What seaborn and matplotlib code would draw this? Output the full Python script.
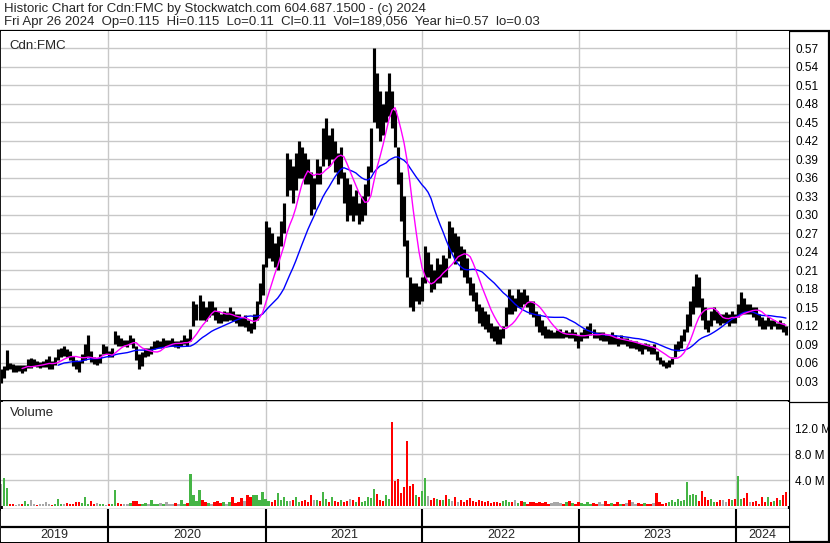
import numpy as np
import pandas as pd
import seaborn as sns
import matplotlib.pyplot as plt

# weekly bars, Fri 2019-04-26 .. Fri 2024-04-26 (262 weeks)
weeks = pd.date_range('2019-04-26', '2024-04-26', freq='W-FRI')

hi = [0.050, 0.055, 0.081, 0.060, 0.058, 0.056, 0.057, 0.056, 0.057, 0.066,
      0.068, 0.066, 0.064, 0.062, 0.063, 0.066, 0.072, 0.064, 0.070, 0.082,
      0.085, 0.087, 0.083, 0.080, 0.072, 0.065, 0.063, 0.075, 0.090, 0.105,
      0.080, 0.070, 0.068, 0.075, 0.090, 0.088, 0.080, 0.085, 0.112, 0.105,
      0.100, 0.098, 0.097, 0.105, 0.100, 0.088, 0.075, 0.078, 0.085, 0.085,
      0.088, 0.095, 0.097, 0.095, 0.100, 0.098, 0.097, 0.100, 0.096, 0.095,
      0.098, 0.105, 0.100, 0.115, 0.160, 0.155, 0.170, 0.160, 0.150, 0.160,
      0.160, 0.150, 0.145, 0.140, 0.145, 0.142, 0.150, 0.145, 0.140, 0.140,
      0.135, 0.138, 0.130, 0.125, 0.140, 0.160, 0.190, 0.220, 0.290, 0.280,
      0.270, 0.255, 0.265, 0.290, 0.320, 0.400, 0.390, 0.380, 0.400, 0.420,
      0.410, 0.400, 0.390, 0.370, 0.360, 0.390, 0.380, 0.440, 0.457, 0.430,
      0.440, 0.420, 0.400, 0.410, 0.370, 0.360, 0.350, 0.330, 0.340, 0.320,
      0.330, 0.350, 0.380, 0.440, 0.570, 0.530, 0.500, 0.480, 0.500, 0.530,
      0.500, 0.470, 0.410, 0.370, 0.330, 0.260, 0.200, 0.190, 0.190, 0.185,
      0.200, 0.250, 0.240, 0.220, 0.210, 0.230, 0.220, 0.235, 0.230, 0.290,
      0.280, 0.270, 0.265, 0.250, 0.245, 0.230, 0.200, 0.190, 0.175, 0.155,
      0.150, 0.145, 0.140, 0.125, 0.120, 0.120, 0.115, 0.120, 0.150, 0.180,
      0.170, 0.165, 0.180, 0.175, 0.180, 0.170, 0.160, 0.160, 0.145, 0.140,
      0.130, 0.120, 0.115, 0.113, 0.110, 0.113, 0.115, 0.110, 0.113, 0.110,
      0.115, 0.110, 0.105, 0.110, 0.115, 0.120, 0.125, 0.115, 0.110, 0.110,
      0.110, 0.105, 0.105, 0.110, 0.105, 0.100, 0.105, 0.100, 0.100, 0.098,
      0.095, 0.095, 0.092, 0.090, 0.093, 0.090, 0.088, 0.090, 0.080, 0.070,
      0.065, 0.062, 0.065, 0.070, 0.090, 0.095, 0.105, 0.115, 0.140, 0.160,
      0.185, 0.205, 0.200, 0.165, 0.150, 0.130, 0.145, 0.150, 0.145, 0.140,
      0.140, 0.143, 0.140, 0.145, 0.140, 0.155, 0.175, 0.165, 0.155, 0.155,
      0.150, 0.150, 0.140, 0.135, 0.130, 0.135, 0.130, 0.130, 0.125, 0.130,
      0.125, 0.120]

lo = [0.028, 0.035, 0.048, 0.050, 0.045, 0.046, 0.047, 0.044, 0.047, 0.052,
      0.052, 0.055, 0.053, 0.052, 0.054, 0.053, 0.050, 0.050, 0.056, 0.065,
      0.070, 0.072, 0.070, 0.065, 0.055, 0.050, 0.045, 0.060, 0.065, 0.070,
      0.062, 0.058, 0.057, 0.060, 0.075, 0.074, 0.070, 0.070, 0.090, 0.088,
      0.088, 0.087, 0.086, 0.090, 0.085, 0.065, 0.050, 0.055, 0.070, 0.072,
      0.075, 0.083, 0.085, 0.085, 0.086, 0.087, 0.088, 0.087, 0.086, 0.085,
      0.088, 0.090, 0.088, 0.095, 0.120, 0.130, 0.130, 0.130, 0.128, 0.135,
      0.138, 0.130, 0.125, 0.125, 0.128, 0.128, 0.130, 0.128, 0.125, 0.120,
      0.120, 0.118, 0.112, 0.108, 0.115, 0.130, 0.155, 0.170, 0.215, 0.230,
      0.225, 0.215, 0.210, 0.250, 0.270, 0.330, 0.340, 0.320, 0.340, 0.360,
      0.360, 0.350, 0.350, 0.300, 0.310, 0.350, 0.350, 0.380, 0.390, 0.380,
      0.390, 0.370, 0.350, 0.360, 0.320, 0.290, 0.300, 0.290, 0.300, 0.285,
      0.290, 0.300, 0.330, 0.370, 0.450, 0.440, 0.420, 0.430, 0.450, 0.460,
      0.440, 0.410, 0.350, 0.290, 0.250, 0.200, 0.150, 0.145, 0.160, 0.155,
      0.160, 0.190, 0.200, 0.175, 0.180, 0.190, 0.190, 0.200, 0.200, 0.230,
      0.240, 0.220, 0.225, 0.210, 0.200, 0.190, 0.170, 0.160, 0.145, 0.125,
      0.120, 0.115, 0.110, 0.100, 0.095, 0.090, 0.090, 0.100, 0.120, 0.140,
      0.140, 0.145, 0.150, 0.150, 0.155, 0.150, 0.140, 0.135, 0.120, 0.110,
      0.105, 0.100, 0.100, 0.100, 0.100, 0.100, 0.100, 0.100, 0.102, 0.100,
      0.100, 0.095, 0.085, 0.095, 0.100, 0.100, 0.105, 0.100, 0.100, 0.098,
      0.095, 0.095, 0.090, 0.090, 0.090, 0.088, 0.090, 0.090, 0.088, 0.085,
      0.085, 0.083, 0.080, 0.075, 0.082, 0.080, 0.075, 0.075, 0.065, 0.058,
      0.055, 0.052, 0.053, 0.058, 0.070, 0.080, 0.085, 0.095, 0.110, 0.120,
      0.140, 0.150, 0.150, 0.130, 0.115, 0.110, 0.120, 0.130, 0.125, 0.122,
      0.125, 0.125, 0.120, 0.125, 0.125, 0.135, 0.140, 0.140, 0.140, 0.140,
      0.135, 0.130, 0.120, 0.115, 0.115, 0.120, 0.115, 0.120, 0.115, 0.115,
      0.110, 0.105]

# volume in millions of shares
vol = [3.4, 4.3, 2.8, 0.3, 0.4, 0.2, 0.3, 0.3, 0.8, 0.3,
       1.0, 0.3, 0.2, 0.4, 0.3, 0.6, 0.3, 0.2, 0.4, 1.2,
       0.4, 0.3, 0.5, 0.3, 0.4, 0.6, 0.6, 0.5, 1.5, 0.4,
       0.8, 0.3, 0.5, 0.4, 0.3, 0.2, 0.3, 0.4, 2.5, 0.5,
       0.3, 0.4, 0.3, 0.5, 0.8, 0.8, 0.4, 0.3, 0.5, 0.3,
       0.9, 0.4, 0.3, 0.5, 0.4, 0.6, 0.3, 0.4, 0.5, 0.4,
       0.9, 0.3, 0.5, 5.0, 1.8, 0.8, 2.5, 0.9, 0.6, 0.5,
       0.4, 0.6, 0.8, 0.5, 0.6, 0.4, 0.6, 1.4, 0.5, 0.7,
       1.3, 0.8, 1.8, 1.5, 1.7, 1.7, 1.0, 2.2, 1.2, 0.8,
       0.6, 1.0, 2.0, 0.9, 1.5, 0.8, 0.8, 1.0, 1.5, 0.7,
       0.8, 1.0, 0.6, 1.7, 0.9, 1.0, 0.8, 2.2, 1.2, 0.6,
       1.5, 0.8, 0.7, 0.9, 0.6, 0.8, 1.2, 0.9, 0.6, 1.4,
       0.6, 0.8, 1.5, 1.3, 2.7, 1.9, 0.9, 0.8, 1.7, 1.2,
       13.0, 3.9, 4.2, 2.0, 3.0, 10.0, 3.1, 3.5, 1.7, 1.5,
       2.4, 4.3, 1.6, 1.0, 1.3, 1.2, 1.0, 0.9, 1.8, 1.2,
       0.8, 1.5, 0.7, 0.9, 0.6, 1.0, 1.3, 0.8, 0.7, 1.0,
       0.8, 0.6, 0.8, 0.5, 0.7, 0.6, 0.5, 0.8, 1.0, 0.7,
       0.6, 1.0, 0.5, 0.8, 0.6, 0.4, 0.7, 0.6, 0.5, 0.6,
       0.5, 0.6, 0.4, 0.5, 0.7, 0.6, 0.5, 0.4, 0.6, 0.8,
       0.5, 0.4, 0.6, 0.5, 0.4, 0.6, 0.3, 0.5, 0.4, 0.6,
       0.4, 0.8, 0.3, 0.5, 0.4, 0.6, 0.4, 0.3, 0.5, 1.0,
       0.6, 0.4, 0.5, 0.4, 0.5, 0.3, 0.4, 0.5, 2.1, 0.6,
       0.4, 0.5, 0.6, 0.9, 0.7, 1.2, 0.8, 0.9, 3.7, 1.7,
       1.9, 1.7, 0.8, 2.3, 1.5, 1.0, 1.2, 0.7, 0.6, 0.9,
       1.0, 0.6, 1.2, 1.0, 1.2, 4.6, 1.1, 1.3, 2.0, 0.7,
       0.6, 0.8, 0.4, 1.5, 0.6, 1.5, 0.7, 0.8, 1.3, 0.9,
       1.7, 2.2]

year_starts = ['2020-01-01', '2021-01-01', '2022-01-01', '2023-01-01', '2024-01-01']
year_labels = ['2019', '2020', '2021', '2022', '2023', '2024']
price_ticks = [0.03, 0.06, 0.09, 0.12, 0.15, 0.18, 0.21, 0.24, 0.27,
               0.30, 0.33, 0.36, 0.39, 0.42, 0.45, 0.48, 0.51, 0.54, 0.57]
vol_ticks = [4, 8, 12]

header1 = 'Historic Chart for Cdn:FMC by Stockwatch.com 604.687.1500 - (c) 2024'
header2 = ('Fri Apr 26 2024  Op=0.115  Hi=0.115  Lo=0.11  Cl=0.11  '
           'Vol=189,056  Year hi=0.57  lo=0.03')

sns.set_theme(style='white')
plt.rcParams['font.family'] = ['Liberation Sans', 'DejaVu Sans']

df = pd.DataFrame({'date': weeks, 'hi': hi, 'lo': lo, 'vol': vol})
df['mid'] = (df['hi'] + df['lo']) / 2
df['ma_fast'] = df['mid'].rolling(8).mean()
df['ma_slow'] = df['mid'].rolling(20).mean()
chg = df['mid'].diff().fillna(0)
bar_colors = np.where(chg > 0.002, '#45b545', np.where(chg < -0.002, '#ff0000', '#a8a8a8'))

W, H = 830, 543
fig = plt.figure(figsize=(W / 100, H / 100), dpi=100)


def box(x0, y0, x1, y1):
    # pixel box measured from the top-left corner
    return [x0 / W, 1 - y1 / H, (x1 - x0) / W, (y1 - y0) / H]


x_lo, x_hi = pd.Timestamp('2019-04-26'), pd.Timestamp('2024-05-03')
grid_c = '#c8c8c8'
ys = pd.to_datetime(year_starts)

# ---- price panel
ax = fig.add_axes(box(1, 31, 789, 400))
ax.set_xlim(x_lo, x_hi)
ax.set_ylim(0.0, 0.598)
for v in price_ticks:
    ax.axhline(v, color=grid_c, lw=1.0, zorder=0)
for d in ys:
    ax.axvline(d, color=grid_c, lw=1.0, zorder=0)
ax.vlines(df['date'], df['lo'], df['hi'], color='black', lw=2.25, zorder=2)
sns.lineplot(data=df, x='date', y='ma_slow', color='#0000ff', lw=1.0, ax=ax, zorder=3)
sns.lineplot(data=df, x='date', y='ma_fast', color='#ff00ff', lw=1.0, ax=ax, zorder=4)
ax.set_xlabel('')
ax.set_ylabel('')
ax.set_xticks([])
ax.yaxis.tick_right()
ax.set_yticks(price_ticks)
ax.set_yticklabels([f'{v:.2f}' for v in price_ticks])
ax.tick_params(axis='y', length=0, pad=4.5, labelsize=8.5, colors='black')
for s in ax.spines.values():
    s.set_visible(False)
ax.text(0.011, 0.975, 'Cdn:FMC', transform=ax.transAxes, fontsize=9.5,
        ha='left', va='top')

# ---- volume panel
axv = fig.add_axes(box(1, 402, 789, 506.3))
axv.set_xlim(x_lo, x_hi)
axv.set_ylim(0, 16.05)
for v in vol_ticks:
    axv.axhline(v, color=grid_c, lw=1.0, zorder=0)
for d in ys:
    axv.axvline(d, color=grid_c, lw=1.0, zorder=0)
axv.bar(df['date'], df['vol'], width=5.5, color=bar_colors, linewidth=0, zorder=2)
axv.set_xticks([])
axv.yaxis.tick_right()
axv.set_yticks(vol_ticks)
axv.set_yticklabels([f'{v:.1f} M' for v in vol_ticks])
axv.tick_params(axis='y', length=0, pad=4.5, labelsize=8.5, colors='black')
for s in axv.spines.values():
    s.set_visible(False)
axv.text(0.011, 0.95, 'Volume', transform=axv.transAxes, fontsize=9.5,
         ha='left', va='top')

# ---- date strip
axd = fig.add_axes(box(1, 509, 789, 542))
axd.set_xlim(x_lo, x_hi)
axd.set_ylim(0, 1)
for d in ys:
    axd.axvline(d, color='black', lw=1.5)
axd.axhline(0.455, color='black', lw=1.6)
edges = [x_lo] + list(ys) + [x_hi]
for lab, a, b in zip(year_labels, edges[:-1], edges[1:]):
    axd.text(a + (b - a) / 2, 0.2, lab, ha='center', va='center', fontsize=9)
axd.set_xticks([])
axd.set_yticks([])
for s in axd.spines.values():
    s.set_visible(False)

# ---- frame lines and header, in pixel coordinates
axf = fig.add_axes([0, 0, 1, 1], zorder=-1)
axf.set_xlim(0, W)
axf.set_ylim(H, 0)
axf.axis('off')
frame = dict(color='black', solid_capstyle='butt')
axf.plot([0, W], [31, 31], lw=1.6, **frame)
axf.plot([1, 1], [31, H], lw=2.0, **frame)
axf.plot([789, 789], [31, H], lw=1.6, **frame)
axf.plot([828.5, 828.5], [31, H], lw=1.6, **frame)
axf.plot([0, 789], [399.5, 399.5], lw=0.9, **frame)
axf.plot([0, W], [402, 402], lw=0.9, **frame)
axf.plot([0, 789], [509.5, 509.5], lw=1.6, **frame)
axf.plot([0, W], [541.8, 541.8], lw=1.6, **frame)
axf.text(4, 9, header1, fontsize=9.5, ha='left', va='center')
axf.text(4, 22.5, header2, fontsize=9.5, ha='left', va='center')

fig.savefig('out.png', dpi=100)
